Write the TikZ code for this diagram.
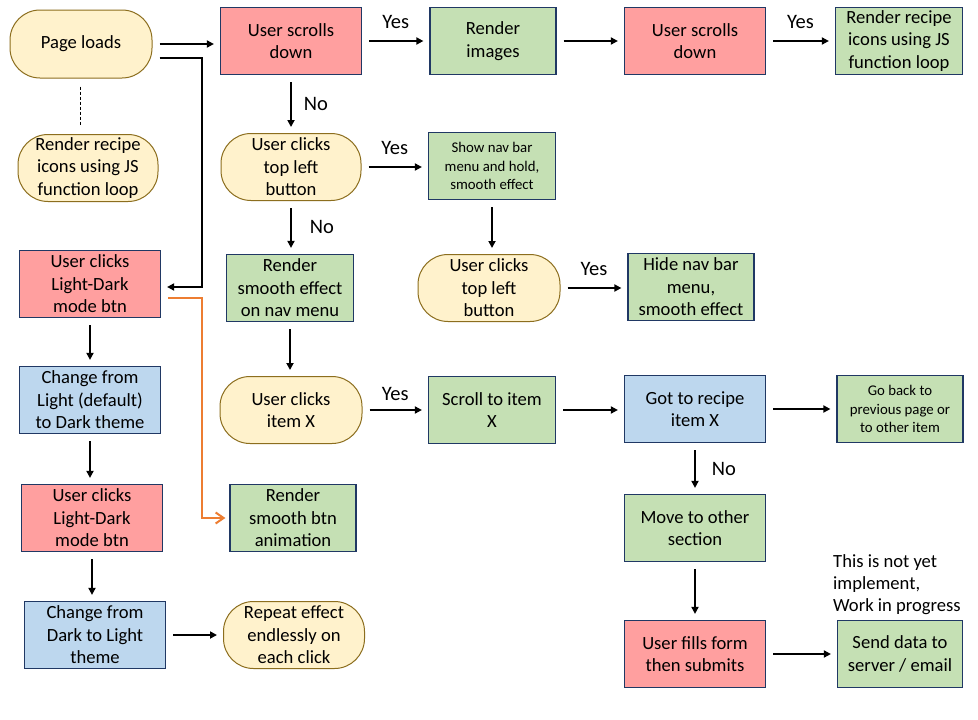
\documentclass[tikz,border=0pt]{standalone}
\usepackage{fontspec}
\setmainfont{Carlito}
\usepackage{xcolor}
\usepackage{tikz}
\usetikzlibrary{arrows.meta}
\usetikzlibrary{calc}

\definecolor{BoxRed}{RGB}{255,159,159}
\definecolor{BoxGreen}{RGB}{197,224,180}
\definecolor{BoxBlue}{RGB}{189,215,238}
\definecolor{BoxYellow}{RGB}{255,242,204}
\definecolor{BoxEdge}{RGB}{32,56,100}
\definecolor{PillEdge}{RGB}{140,110,30}
\definecolor{FlowOrange}{RGB}{237,125,49}

\tikzset{
    box/.style={draw=BoxEdge, line width=1.2pt, minimum height=67pt, inner sep=1pt, align=center, font=\fontsize{18.6}{22.5}\selectfont},
    redbox/.style={box, fill=BoxRed, minimum width=141pt},
    greenbox/.style={box, fill=BoxGreen, minimum width=127pt},
    bluebox/.style={box, fill=BoxBlue, minimum width=141pt},
    pill/.style={box, draw=PillEdge, line width=1pt, fill=BoxYellow, rounded corners=30pt, minimum width=141pt},
    smalltxt/.style={font=\fontsize{14.8}{18.3}\selectfont},
    flow/.style={-{Triangle[length=7pt, width=7pt]}, line width=1.8pt, shorten <=7pt, shorten >=6pt},
    orangeflow/.style={-{Straight Barb[length=8pt, width=11pt]}, FlowOrange, line width=2pt},
    lbl/.style={font=\fontsize{20.5}{24}\selectfont, inner sep=0pt},
    notetxt/.style={font=\fontsize{18.6}{22.3}\selectfont, inner sep=0pt, align=left}
}

\begin{document}
\begin{tikzpicture}[x=1pt, y=-1pt]
        \fill [white] (0,0) rectangle (978,720);
        \useasboundingbox (0,0) rectangle (978,720);

        % left column
        \node [pill, minimum width=142pt, minimum height=68pt] (pageload) at (81,44) {Page loads};
        \node [pill, minimum width=140pt] (iconsleft) at (88,168) {Render recipe\\icons using JS\\function loop};
        \node [redbox] (modebtnA) at (90,284) {User clicks\\Light-Dark\\mode btn};
        \node [bluebox] (lighttodark) at (90,400) {Change from\\Light (default)\\to Dark theme};
        \node [redbox] (modebtnB) at (92,518) {User clicks\\Light-Dark\\mode btn};
        \node [bluebox] (darktolight) at (95,635) {Change from\\Dark to Light\\theme};
        \node [pill] (repeatfx) at (294,635) {Repeat effect\\endlessly on\\each click};
        \node [greenbox, minimum width=126pt] (btnanim) at (293,518) {Render\\smooth btn\\animation};

        % top row
        \node [redbox] (scrollA) at (291,41) {User scrolls\\down};
        \node [greenbox, minimum width=126pt] (renderimg) at (493,41) {Render\\images};
        \node [redbox] (scrollB) at (695,41) {User scrolls\\down};
        \node [greenbox] (iconsright) at (899,41) {Render recipe\\icons using JS\\function loop};

        % nav menu
        \node [pill, minimum width=140pt] (topleftA) at (291,167) {User clicks\\top left\\button};
        \node [greenbox, smalltxt] (shownav) at (492,166) {Show nav bar\\menu and hold,\\smooth effect};
        \node [pill, minimum width=142pt] (topleftB) at (489,288) {User clicks\\top left\\button};
        \node [greenbox, minimum width=126pt] (hidenav) at (691,287) {Hide nav bar\\menu,\\smooth effect};
        \node [greenbox] (navfx) at (290,288) {Render\\smooth effect\\on nav menu};

        % items
        \node [pill, minimum width=142pt] (clickitem) at (291,410) {User clicks\\item X};
        \node [greenbox] (scrollitem) at (492,410) {Scroll to item\\X};
        \node [bluebox] (gotoitem) at (695,409) {Got to recipe\\item X};
        \node [greenbox, minimum width=126pt, smalltxt] (goback) at (900,409) {Go back to\\previous page or\\to other item};
        \node [greenbox, minimum width=141pt] (othersec) at (695,528) {Move to other\\section};
        \node [redbox] (fillform) at (695,654) {User fills form\\then submits};
        \node [greenbox, minimum width=125pt] (senddata) at (900,654) {Send data to\\server / email};
        \node [notetxt, anchor=north west] (wip) at (833,554) {This is not yet\\implement,\\Work in progress};

        \draw [dashed, dash pattern=on 3pt off 2pt, line width=0.8pt] ($(pageload.south)+(-1,8)$) -- ($(pageload.south |- iconsleft.north)+(-1,-8)$);

        \draw [flow] (pageload.east) -- (scrollA.west |- pageload.east);
        \draw [flow] ([shift={(0,14)}]pageload.east) -| ([shift={(41,3)}]modebtnA.east) -- ([shift={(0,3)}]modebtnA.east);
        \draw [orangeflow, shorten <=7pt, shorten >=4pt] ([shift={(0,14)}]modebtnA.east) -| ([shift={(-27,0)}]btnanim.west) -- (btnanim.west);

        \draw [flow] (modebtnA.south) -- (modebtnA.south |- lighttodark.north);
        \draw [flow] (lighttodark.south) -- (lighttodark.south |- modebtnB.north);
        \draw [flow] (modebtnB.south) -- (modebtnB.south |- darktolight.north);
        \draw [flow] (darktolight.east) -- (repeatfx.west |- darktolight.east);

        \draw [flow] (scrollA.east) -- node [lbl, above=11pt] {Yes} (renderimg.west);
        \draw [flow] (renderimg.east) -- (scrollB.west);
        \draw [flow] (scrollB.east) -- node [lbl, above=11pt] {Yes} (iconsright.west);
        \draw [flow] (scrollA.south) -- node [lbl, right=12pt] {No} (scrollA.south |- topleftA.north);

        \draw [flow] (topleftA.east) -- node [lbl, above=11pt] {Yes} (shownav.west |- topleftA.east);
        \draw [flow] (topleftA.south) -- node [lbl, right=18pt] {No} (topleftA.south |- navfx.north);
        \draw [flow] (shownav.south) -- (shownav.south |- topleftB.north);
        \draw [flow] (topleftB.east) -- node [lbl, above=11pt] {Yes} (hidenav.west |- topleftB.east);
        \draw [flow] (navfx.south) -- (navfx.south |- clickitem.north);

        \draw [flow] (clickitem.east) -- node [lbl, above=8pt] {Yes} (scrollitem.west |- clickitem.east);
        \draw [flow] (scrollitem.east) -- (gotoitem.west |- scrollitem.east);
        \draw [flow] (gotoitem.east) -- (goback.west |- gotoitem.east);
        \draw [flow] (gotoitem.south) -- node [lbl, right=16pt] {No} (gotoitem.south |- othersec.north);
        \draw [flow] (othersec.south) -- (othersec.south |- fillform.north);
        \draw [flow] (fillform.east) -- (senddata.west |- fillform.east);
    \end{tikzpicture}
\end{document}
